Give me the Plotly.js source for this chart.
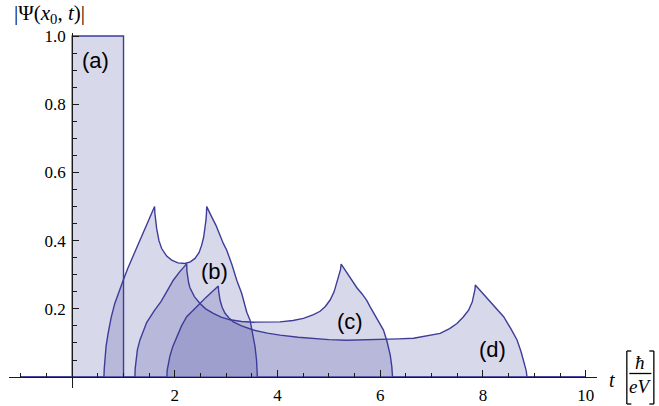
<!DOCTYPE html>
<html>
<head>
<meta charset="utf-8">
<script src="https://cdn.plot.ly/plotly-3.0.1.min.js"></script>
<style>html,body{margin:0;padding:0;background:#fff;}#plot{width:659px;height:406px;}</style>
</head>
<body>
<div id="plot"></div>
<script>
// ---- data ----
var tA = [-1, 0, 0, 1, 1, 10];
var psiA = [0, 0, 1, 1, 0, 0];

var tB = [-1, 0.618, 0.625, 0.637, 0.66, 0.70, 0.76, 0.83, 0.91, 0.994, 1.08, 1.17, 1.26, 1.353, 1.48, 1.605,
  1.61, 1.62, 1.645, 1.69, 1.743, 1.84, 1.938, 2.06, 2.197, 2.30, 2.392, 2.47, 2.522, 2.56, 2.587, 2.605, 2.615, 2.62,
  2.70, 2.80, 2.943, 3.010, 3.11, 3.205, 3.302, 3.40, 3.464, 3.528, 3.561, 3.59, 3.606, 10];
var psiB = [0, 0, 0.025, 0.05, 0.09, 0.128, 0.175, 0.216, 0.252, 0.284, 0.318, 0.35, 0.381, 0.411, 0.456, 0.50,
  0.482, 0.46, 0.436, 0.40, 0.377, 0.355, 0.343, 0.335, 0.333, 0.338, 0.348, 0.365, 0.387, 0.41, 0.436, 0.46, 0.48, 0.50,
  0.475, 0.445, 0.392, 0.372, 0.33, 0.284, 0.245, 0.19, 0.167, 0.115, 0.089, 0.05, 0, 0];

var tC = [-1, 1.222, 1.227, 1.24, 1.27, 1.32, 1.45, 1.60, 1.729, 1.85, 1.969, 2.10, 2.23,
  2.235, 2.25, 2.27, 2.294, 2.33, 2.38, 2.489, 2.60, 2.749, 2.90, 3.074, 3.30, 3.528, 3.80, 4.048, 4.30, 4.503, 4.70, 4.828, 4.93, 5.023, 5.10, 5.154, 5.20, 5.225, 5.238,
  5.35, 5.45, 5.544, 5.65, 5.739, 5.803, 5.90, 5.98, 6.062, 6.13, 6.193, 6.225, 6.238, 10];
var psiC = [0, 0, 0.025, 0.05, 0.08, 0.109, 0.16, 0.195, 0.221, 0.253, 0.284, 0.31, 0.332,
  0.31, 0.29, 0.275, 0.262, 0.249, 0.236, 0.216, 0.20, 0.187, 0.176, 0.168, 0.163, 0.161, 0.161, 0.162, 0.166, 0.172, 0.183, 0.193, 0.207, 0.226, 0.25, 0.275, 0.30, 0.315, 0.331,
  0.305, 0.283, 0.262, 0.243, 0.224, 0.206, 0.18, 0.16, 0.138, 0.105, 0.065, 0.03, 0, 0];

var tD = [-1, 1.845, 1.85, 1.87, 1.904, 1.96, 2.035, 2.13, 2.23, 2.36, 2.489, 2.60, 2.684, 2.77, 2.846,
  2.85, 2.862, 2.879, 2.92, 2.977, 3.05, 3.138, 3.30, 3.528, 3.80, 4.048, 4.40, 4.698, 5.0, 5.349, 5.70, 5.998, 6.35, 6.647, 6.90, 7.166, 7.35, 7.493, 7.62, 7.719, 7.79, 7.83, 7.845, 7.85,
  7.96, 8.078, 8.25, 8.402, 8.55, 8.663, 8.74, 8.791, 8.84, 8.858, 10];
var psiD = [0, 0, 0.02, 0.04, 0.062, 0.09, 0.118, 0.15, 0.177, 0.198, 0.216, 0.233, 0.245, 0.256, 0.267,
  0.255, 0.238, 0.226, 0.205, 0.187, 0.174, 0.162, 0.15, 0.138, 0.129, 0.123, 0.117, 0.113, 0.11, 0.108, 0.109, 0.111, 0.112, 0.114, 0.12, 0.128, 0.142, 0.157, 0.177, 0.196, 0.22, 0.245, 0.258, 0.27,
  0.252, 0.233, 0.205, 0.177, 0.14, 0.109, 0.075, 0.05, 0.02, 0, 0];

var curveLabels = ['(a)', '(b)', '(c)', '(d)'];
var labelT = [0.462, 2.772, 5.413, 8.19];
var labelPsi = [0.927, 0.311, 0.162, 0.082];

var xTickVals = [2, 4, 6, 8, 10];
var xTickText = ['2', '4', '6', '8', '10'];
var yTickVals = [0.2, 0.4, 0.6, 0.8, 1.0];
var yTickText = ['0.2', '0.4', '0.6', '0.8', '1.0'];

// ---- styling ----
var lineCol = 'rgb(61,61,153)';
var fillCol = 'rgba(61,61,153,0.2)';
var W = 659, H = 406;
var M = {l: 9.3, r: 62.3, t: 33, b: 18};
var xRange = [-1.23, 10.22];
var yRange = [-0.032, 1.009];
var pw = W - M.l - M.r, ph = H - M.t - M.b;
function px(x) { return (x - M.l) / pw; }
function py(y) { return (H - M.b - y) / ph; }

function curve(t, v) {
  return {x: t, y: v, type: 'scatter', mode: 'lines', fill: 'tozeroy',
    fillcolor: fillCol, line: {color: lineCol, width: 1.4}, hoverinfo: 'skip'};
}
var data = [curve(tA, psiA), curve(tB, psiB), curve(tC, psiC), curve(tD, psiD)];

var serif = 'Liberation Serif, Times New Roman, serif';
var annotations = [];
for (var i = 0; i < curveLabels.length; i++) {
  annotations.push({x: labelT[i], y: labelPsi[i], xref: 'x', yref: 'y', xanchor: 'center', yanchor: 'middle',
    text: curveLabels[i], showarrow: false,
    font: {family: 'Liberation Sans, Arial, sans-serif', size: 22, color: '#000'}});
}
function note(x, y, text, size, xa) {
  annotations.push({x: px(x), y: py(y), xref: 'paper', yref: 'paper', xanchor: xa || 'center', yanchor: 'middle',
    text: text, showarrow: false, font: {family: serif, size: size, color: '#000'}});
}
note(12, 14, '|Ψ(<i>x</i><sub>0</sub>, <i>t</i>)|', 21, 'left');
note(612, 380, '<i>t</i>', 20);
note(640, 362, '<i>ħ</i>', 19);
note(640, 386, '<i>eV</i>', 19);

function seg(x0, y0, x1, y1, w) {
  return {type: 'line', xref: 'paper', yref: 'paper', x0: px(x0), y0: py(y0), x1: px(x1), y1: py(y1),
    line: {color: '#000', width: w || 1.2}};
}
var shapes = [
  seg(629, 373.5, 651, 373.5, 1.3),
  seg(626.5, 351, 626.5, 404, 1.3), seg(626.5, 351, 631, 351, 1.3), seg(626.5, 404, 631, 404, 1.3),
  seg(653.5, 351, 653.5, 404, 1.3), seg(649, 351, 653.5, 351, 1.3), seg(649, 404, 653.5, 404, 1.3)
];

var axisCol = '#1a1a1a';
var layout = {
  width: W, height: H, margin: M, paper_bgcolor: '#fff', plot_bgcolor: 'rgba(0,0,0,0)',
  showlegend: false,
  xaxis: {range: xRange, anchor: 'free', position: (0 - yRange[0]) / (yRange[1] - yRange[0]),
    showline: true, linecolor: axisCol, linewidth: 1, showgrid: false, zeroline: false,
    tickmode: 'array', tickvals: xTickVals, ticktext: xTickText, ticks: 'inside', ticklen: 7,
    tickcolor: axisCol, tickwidth: 1, tickfont: {family: serif, size: 17, color: '#000'},
    ticklabelstandoff: 3,
    minor: {tickmode: 'linear', tick0: 0, dtick: 0.5, ticks: 'inside', ticklen: 4, tickcolor: axisCol, tickwidth: 1},
    fixedrange: true},
  yaxis: {range: yRange, anchor: 'free', position: (0 - xRange[0]) / (xRange[1] - xRange[0]),
    showline: true, linecolor: axisCol, linewidth: 1, showgrid: false, zeroline: false,
    tickmode: 'array', tickvals: yTickVals, ticktext: yTickText, ticks: 'inside', ticklen: 6,
    tickcolor: axisCol, tickwidth: 1, tickfont: {family: serif, size: 17, color: '#000'},
    ticklabelstandoff: 3,
    minor: {tickmode: 'linear', tick0: 0, dtick: 0.05, ticks: 'inside', ticklen: 4, tickcolor: axisCol, tickwidth: 1},
    fixedrange: true},
  annotations: annotations,
  shapes: shapes
};
Plotly.newPlot('plot', data, layout, {displayModeBar: false, staticPlot: true});
</script>
</body>
</html>
